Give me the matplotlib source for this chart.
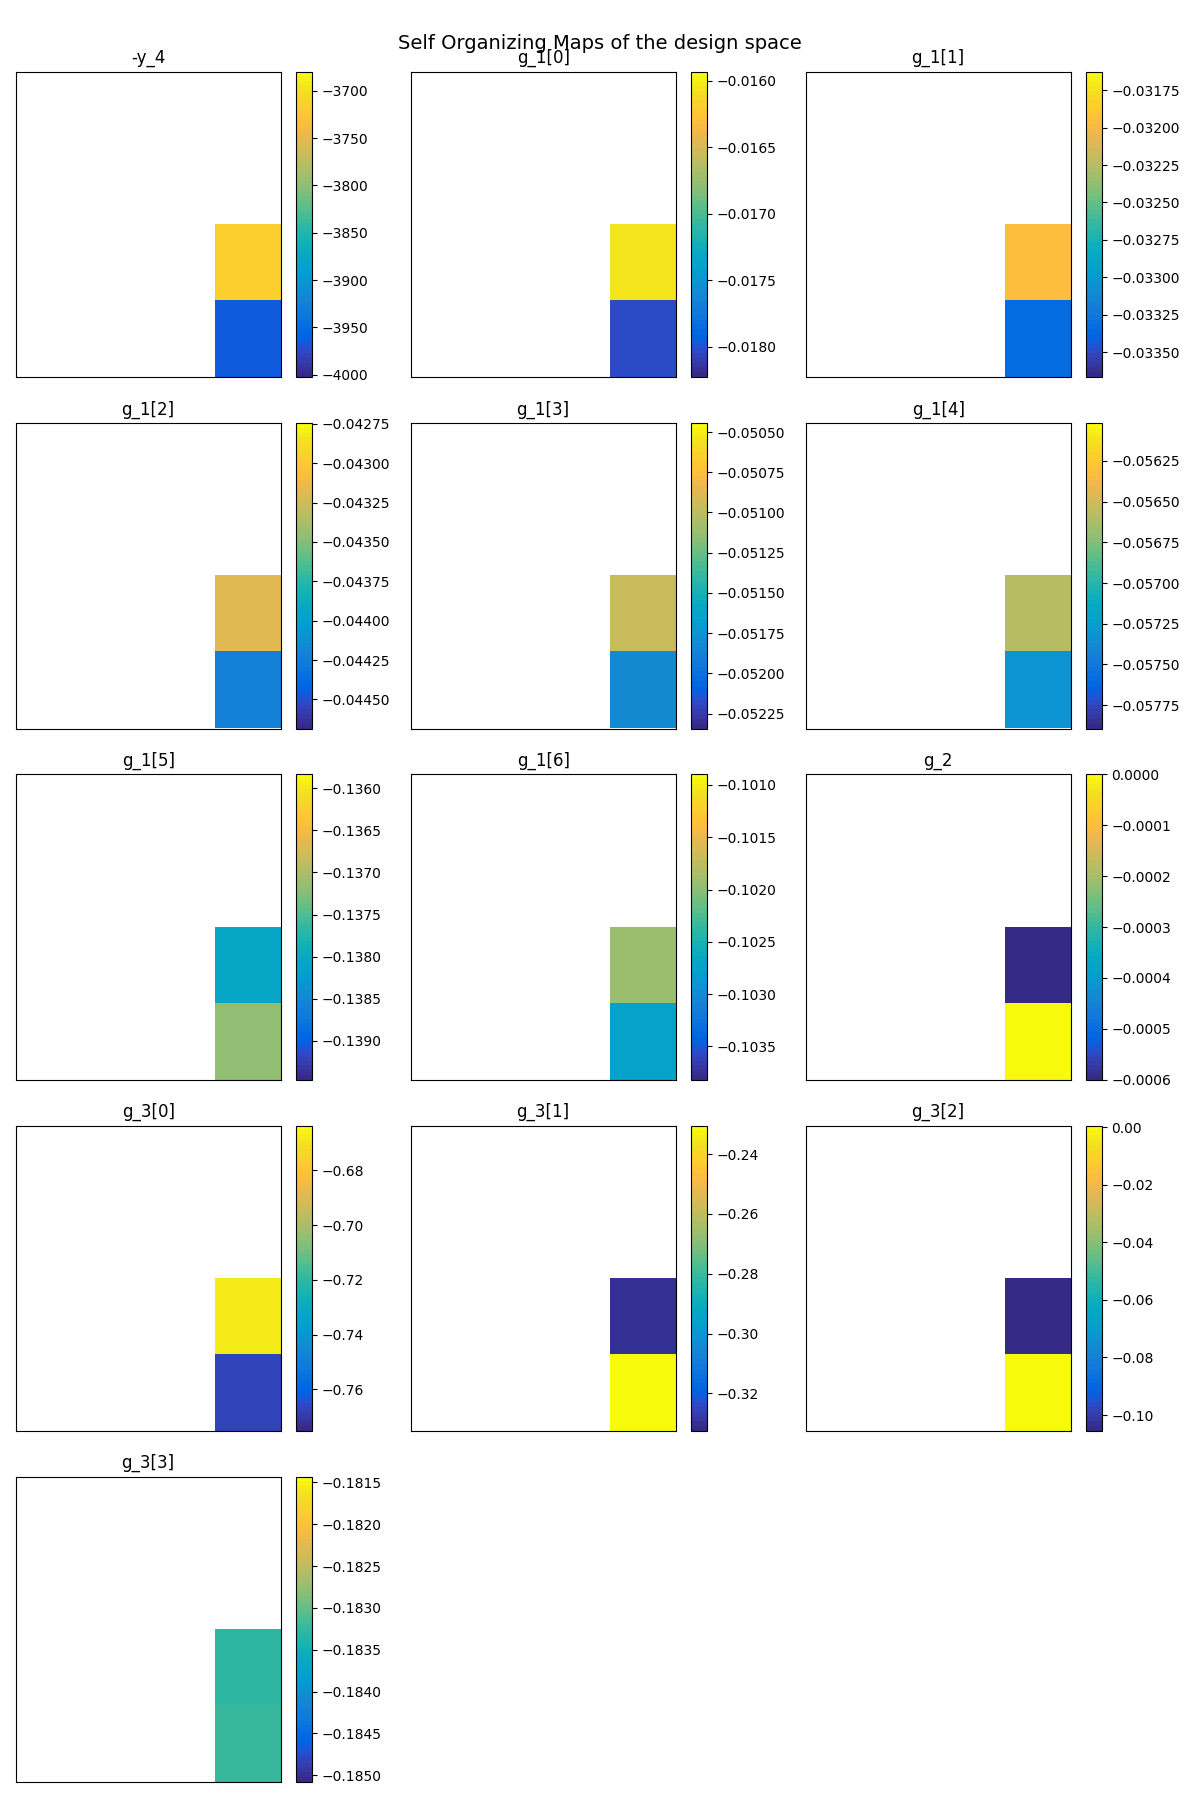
import numpy as np
import matplotlib
matplotlib.use("Agg")
import matplotlib.pyplot as plt
from matplotlib.colors import ListedColormap

# ---------------- data ----------------
titles = ["-y_4", "g_1[0]", "g_1[1]", "g_1[2]", "g_1[3]", "g_1[4]", "g_1[5]",
          "g_1[6]", "g_2", "g_3[0]", "g_3[1]", "g_3[2]", "g_3[3]"]
# value of the upper filled neuron (row 2, col 3) and lower one (row 3, col 3)
upper_values = [-3715.0, -0.01604, -0.03195, -0.04317, -0.05096, -0.05658, -0.13808,
                -0.10192, -0.0006, -0.6681, -0.3306, -0.1055, -0.18329]
lower_values = [-3967.0, -0.01804, -0.03334, -0.04422, -0.05183, -0.05731, -0.13718,
                -0.10275, 0.0, -0.7674, -0.2314, 0.0006, -0.18320]
# colour-scale limits of each map
vmins = [-4002.5, -0.018226, -0.033667, -0.044685, -0.052343, -0.057893, -0.139463,
         -0.103819, -0.0006, -0.7752, -0.3326, -0.10555, -0.18508]
vmaxs = [-3679.5, -0.01593, -0.031625, -0.042744, -0.050444, -0.056018, -0.135834,
         -0.100898, 0.0, -0.66358, -0.2304, 0.00058, -0.18143]

# ---------------- colormap (parula) ----------------
_parula = [
    [0.2081, 0.1663, 0.5292], [0.2116, 0.1898, 0.5777], [0.2123, 0.2138, 0.6270],
    [0.2081, 0.2386, 0.6771], [0.1959, 0.2645, 0.7279], [0.1707, 0.2919, 0.7792],
    [0.1253, 0.3242, 0.8303], [0.0591, 0.3598, 0.8683], [0.0117, 0.3875, 0.8820],
    [0.0060, 0.4086, 0.8828], [0.0165, 0.4266, 0.8786], [0.0329, 0.4430, 0.8720],
    [0.0498, 0.4586, 0.8641], [0.0629, 0.4737, 0.8554], [0.0723, 0.4887, 0.8467],
    [0.0779, 0.5040, 0.8384], [0.0793, 0.5200, 0.8312], [0.0749, 0.5375, 0.8263],
    [0.0641, 0.5570, 0.8240], [0.0488, 0.5772, 0.8228], [0.0343, 0.5966, 0.8199],
    [0.0265, 0.6137, 0.8135], [0.0239, 0.6287, 0.8038], [0.0231, 0.6418, 0.7913],
    [0.0228, 0.6535, 0.7768], [0.0267, 0.6642, 0.7607], [0.0384, 0.6743, 0.7436],
    [0.0590, 0.6838, 0.7254], [0.0843, 0.6928, 0.7062], [0.1133, 0.7015, 0.6859],
    [0.1453, 0.7098, 0.6646], [0.1801, 0.7177, 0.6424], [0.2178, 0.7250, 0.6193],
    [0.2586, 0.7317, 0.5954], [0.3022, 0.7376, 0.5712], [0.3482, 0.7424, 0.5473],
    [0.3953, 0.7459, 0.5244], [0.4420, 0.7481, 0.5033], [0.4871, 0.7491, 0.4840],
    [0.5300, 0.7491, 0.4661], [0.5709, 0.7485, 0.4494], [0.6099, 0.7473, 0.4337],
    [0.6473, 0.7456, 0.4188], [0.6834, 0.7435, 0.4044], [0.7184, 0.7411, 0.3905],
    [0.7525, 0.7384, 0.3768], [0.7858, 0.7356, 0.3633], [0.8185, 0.7327, 0.3498],
    [0.8507, 0.7299, 0.3360], [0.8824, 0.7274, 0.3217], [0.9139, 0.7258, 0.3063],
    [0.9450, 0.7261, 0.2886], [0.9739, 0.7314, 0.2666], [0.9938, 0.7455, 0.2403],
    [0.9990, 0.7653, 0.2164], [0.9955, 0.7861, 0.1967], [0.9880, 0.8066, 0.1794],
    [0.9789, 0.8271, 0.1633], [0.9697, 0.8481, 0.1475], [0.9626, 0.8705, 0.1309],
    [0.9589, 0.8949, 0.1132], [0.9598, 0.9218, 0.0948], [0.9661, 0.9514, 0.0755],
    [0.9763, 0.9831, 0.0538]]
cmap = ListedColormap(_parula, name="parula")
cmap.set_bad((1, 1, 1, 0))

# ---------------- layout ----------------
W, H = 1200, 1800
fig = plt.figure(figsize=(12, 18), dpi=100)

map_x = [15.5, 410.5, 805.5]
cb_x = [296.0, 691.0, 1086.0]
row_top = [71.5, 423.0, 774.3, 1125.5, 1476.5]
map_w, map_h, cb_w = 265.3, 305.5, 15.5

for i, title in enumerate(titles):
    r, c = divmod(i, 3)
    y0 = H - row_top[r] - map_h
    ax = fig.add_axes([map_x[c] / W, y0 / H, map_w / W, map_h / H])
    cax = fig.add_axes([cb_x[c] / W, y0 / H, cb_w / W, map_h / H])

    grid = np.full((4, 4), np.nan)
    grid[2, 3] = upper_values[i]
    grid[3, 3] = lower_values[i]

    im = ax.imshow(grid, cmap=cmap, vmin=vmins[i], vmax=vmaxs[i],
                   aspect="auto", interpolation="nearest")
    ax.set_xticks([])
    ax.set_yticks([])
    ax.set_title(title, fontsize=12)
    fig.colorbar(im, cax=cax)
    cax.tick_params(labelsize=10)

fig.suptitle("Self Organizing Maps of the design space", fontsize=14, y=1 - 34 / H)
fig.savefig("out.png", dpi=100)
